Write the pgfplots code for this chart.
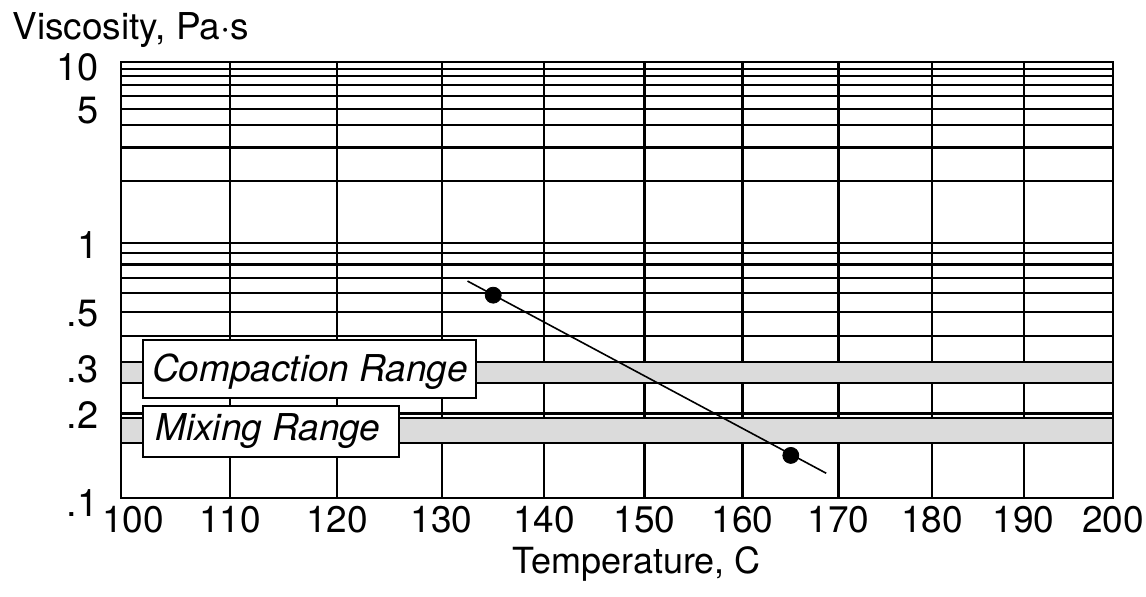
\documentclass[border=0pt]{standalone}
\usepackage{pgfplots}
\pgfplotsset{compat=1.18}
\usepackage{fontspec}
\setmainfont{TeX Gyre Heros}
\setsansfont{TeX Gyre Heros}

\begin{document}
\begin{tikzpicture}
\useasboundingbox (-60.5pt,-49pt) rectangle (512.5pt,249pt);
\begin{axis}[
  at={(0pt,0pt)}, anchor=south west,
  scale only axis, width=496pt, height=218pt,
  x coord trafo/.code={\pgfmathparse{((#1)-100)/10*(11.025-0.011*((#1)-100))}},
  y coord trafo/.code={\pgfmathparse{(log10(#1)+1)*(2.92-0.37*(log10(#1)+1))}},
  xmin=100, xmax=200, ymin=0.1, ymax=10,
  xtick={100,110,120,130,140,150,160,170,180,190,200},
  xticklabels={\hspace{12pt}100,110,120,130,140,150,160,170,180,190,200},
  ytick={0.2,0.3,0.5,1,5},
  yticklabels={.2,.3,.5,1,5},
  extra y ticks={0.1,10}, extra y tick labels={.1,10},
  extra y tick style={yticklabel style={yshift=-1.5pt}},
  minor ytick={0.4,0.6,0.7,0.8,0.9,2,3,4,6,7,8,9},
  grid=both,
  major grid style={line width=1.1pt, black},
  minor grid style={line width=1.1pt, black},
  major tick length=0pt, minor tick length=0pt,
  axis line style={line width=1.3pt},
  /pgf/number format/assume math mode=true,
  xticklabel style={font=\fontsize{18.5}{20}\selectfont, inner sep=0pt, anchor=north, yshift=-4pt},
  yticklabel style={font=\fontsize{19}{20}\selectfont, inner sep=0pt, anchor=east, xshift=-11pt, yshift=-1pt},
  clip=false,
]
% compaction range band
\addplot[fill=black!14, draw=black, line width=1.1pt]
  coordinates {(100,0.26) (200,0.26) (200,0.315) (100,0.315)} -- cycle;
% mixing range band
\addplot[fill=black!14, draw=black, line width=1.1pt]
  coordinates {(100,0.156) (200,0.156) (200,0.193) (100,0.193)} -- cycle;
% viscosity-temperature line
\addplot[black, line width=0.8pt] coordinates {(132.5,0.677) (168.7,0.122)};
\addplot[only marks, mark=*, mark size=4pt, black] coordinates {(135,0.589) (165,0.141)};

\draw[line width=1.2pt, fill=white] (rel axis cs:0.0222,0.2294) rectangle (rel axis cs:0.3579,0.3624);
\node[anchor=base west, inner sep=0pt, font=\fontsize{18.5}{20}\selectfont\itshape]
  at (rel axis cs:0.031,0.2667) {Compaction Range};
\draw[line width=1.2pt, fill=white] (rel axis cs:0.0222,0.094) rectangle (rel axis cs:0.2802,0.211);
\node[anchor=base west, inner sep=0pt, font=\fontsize{18.5}{20}\selectfont\itshape]
  at (rel axis cs:0.0343,0.133) {Mixing Range};

\node[anchor=base west, inner sep=0pt, font=\fontsize{18.5}{20}\selectfont]
  at (rel axis cs:-0.1099,1.0521) {Viscosity, Pa·s};
\node[anchor=base, inner sep=0pt, font=\fontsize{18}{20}\selectfont]
  at (rel axis cs:0.5199,-0.172) {Temperature, C};
\end{axis}
\end{tikzpicture}
\end{document}
